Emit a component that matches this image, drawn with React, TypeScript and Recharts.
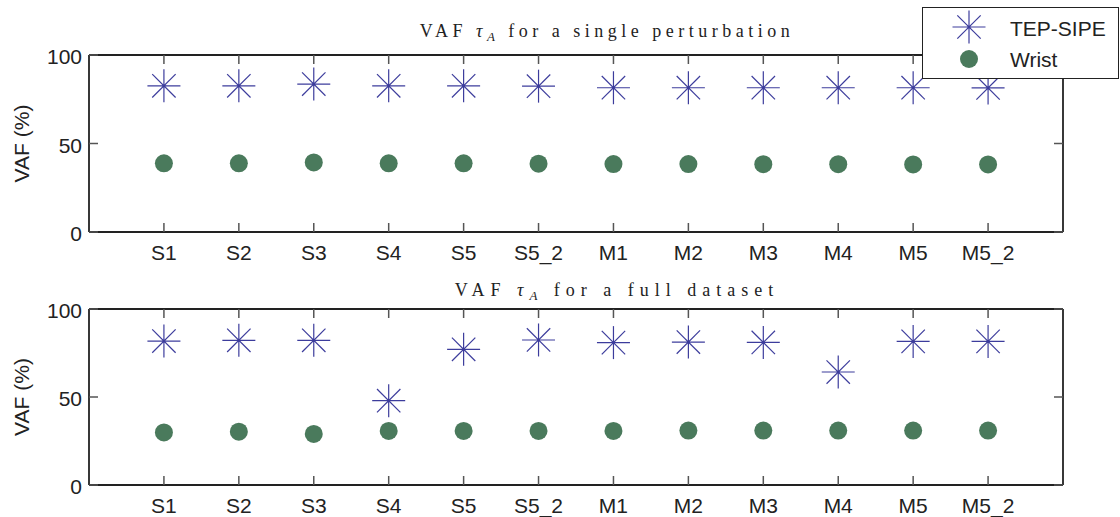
import React from 'react';
import { ScatterChart, Scatter, XAxis, YAxis, Legend, Label } from 'recharts';

const categories = ['S1', 'S2', 'S3', 'S4', 'S5', 'S5_2', 'M1', 'M2', 'M3', 'M4', 'M5', 'M5_2'];
const singleTep = [82.6, 82.6, 83.6, 82.6, 82.6, 82.4, 81.5, 81.5, 81.5, 81.5, 81.5, 81.4];
const singleWrist = [38.8, 38.8, 39.3, 38.8, 38.8, 38.6, 38.4, 38.4, 38.3, 38.3, 38.2, 38.2];
const fullTep = [81.8, 82.2, 82.2, 47.9, 77.1, 82.4, 80.9, 81.2, 81.0, 64.2, 81.6, 81.6];
const fullWrist = [29.9, 30.3, 29.0, 30.7, 30.7, 30.7, 30.7, 30.9, 30.9, 30.9, 30.9, 30.9];
const yTicks = [0, 50, 100];
const xTicks = categories.map((_, i) => i + 1);
const seriesNames = ['TEP-SIPE', 'Wrist'];

const toPoints = (vals: number[]) => vals.map((v, i) => ({ x: i + 1, y: v, name: categories[i] }));

const STAR = '#3c3c9c';
const DOT = '#4a7a5c';
const AXIS = '#222';
const SANS = '"Liberation Sans", Arial, Helvetica, sans-serif';
const SERIF = '"Liberation Serif", "DejaVu Serif", serif';

function StarShape(props: any) {
  const { cx, cy } = props;
  if (cx == null || cy == null) return null;
  const a = 16.5;
  const d = 11.7;
  return (
    <g stroke={STAR} strokeWidth={1.2}>
      <line x1={cx - a} y1={cy} x2={cx + a} y2={cy} />
      <line x1={cx} y1={cy - a} x2={cx} y2={cy + a} />
      <line x1={cx - d} y1={cy - d} x2={cx + d} y2={cy + d} />
      <line x1={cx - d} y1={cy + d} x2={cx + d} y2={cy - d} />
      <circle cx={cx} cy={cy} r={1.6} fill={STAR} stroke="none" />
    </g>
  );
}

function DotShape(props: any) {
  const { cx, cy } = props;
  if (cx == null || cy == null) return null;
  return <circle cx={cx} cy={cy} r={9} fill={DOT} />;
}

function NoShape() {
  return <g />;
}

function LegendBox() {
  return (
    <div
      style={{
        width: 197,
        height: 72,
        boxSizing: 'border-box',
        border: `1.5px solid ${AXIS}`,
        background: '#fff',
      }}
    >
      <svg width={194} height={69} style={{ display: 'block' }}>
        <StarShape cx={46} cy={19} />
        <DotShape cx={46} cy={51} />
        <text x={87} y={28} fontFamily={SANS} fontSize={21} fill={AXIS}>
          {seriesNames[0]}
        </text>
        <text x={87} y={59} fontFamily={SANS} fontSize={21} fill={AXIS}>
          {seriesNames[1]}
        </text>
      </svg>
    </div>
  );
}

type PanelProps = {
  tep: number[];
  wrist: number[];
  title: string;
  titleX: number;
  titleY: number;
  titleSpacing: number;
  height: number;
  top: number;
  marginTop: number;
  marginBottom: number;
  legend?: boolean;
};

function Panel(p: PanelProps) {
  const tickStyle = { fill: AXIS, fontSize: 21, fontFamily: SANS };
  const tickLine = { stroke: '#555', strokeWidth: 1.5 };
  const axisLine = { stroke: AXIS, strokeWidth: 1.8 };
  return (
    <div style={{ position: 'absolute', left: 0, top: p.top }}>
      <ScatterChart
        width={1120}
        height={p.height}
        margin={{ top: p.marginTop, right: 56, bottom: p.marginBottom, left: 29 }}
      >
        <XAxis
          xAxisId="b"
          dataKey="x"
          type="number"
          domain={[0, 13]}
          ticks={xTicks}
          allowDataOverflow
          height={26}
          tickSize={-9}
          tickMargin={22}
          tickLine={tickLine}
          axisLine={axisLine}
          tick={tickStyle}
          tickFormatter={(v: number) => categories[v - 1] ?? ''}
        />
        <XAxis
          xAxisId="t"
          dataKey="x"
          orientation="top"
          type="number"
          domain={[0, 13]}
          ticks={xTicks}
          allowDataOverflow
          height={1}
          tickSize={-9}
          tickLine={tickLine}
          axisLine={axisLine}
          tick={tickStyle}
          tickFormatter={() => ''}
        />
        <YAxis
          yAxisId="l"
          dataKey="y"
          type="number"
          domain={[0, 100]}
          ticks={yTicks}
          allowDataOverflow
          width={60}
          tickSize={-9}
          tickMargin={16}
          tickLine={tickLine}
          axisLine={axisLine}
          tick={{ ...tickStyle, dy: 2 }}
        >
          <Label
            content={(lp: any) => {
              const vb = lp.viewBox || { x: 29, y: 55, height: 177 };
              const cx = vb.x;
              const cy = vb.y + vb.height / 2;
              return (
                <text
                  x={cx}
                  y={cy}
                  transform={`rotate(-90, ${cx}, ${cy})`}
                  textAnchor="middle"
                  fontFamily={SANS}
                  fontSize={21}
                  fill={AXIS}
                >
                  VAF (%)
                </text>
              );
            }}
          />
        </YAxis>
        <YAxis
          yAxisId="r"
          dataKey="y"
          orientation="right"
          type="number"
          domain={[0, 100]}
          ticks={yTicks}
          allowDataOverflow
          width={1}
          tickSize={-9}
          tickLine={tickLine}
          axisLine={axisLine}
          tick={tickStyle}
          tickFormatter={() => ''}
        >
          <Label
            content={() => (
              <text
                x={p.titleX}
                y={p.titleY}
                textAnchor="middle"
                fontFamily={SERIF}
                fontSize={18}
                letterSpacing={p.titleSpacing}
                fill={AXIS}
              >
                {'VAF '}
                <tspan fontStyle="italic">τ</tspan>
                <tspan fontStyle="italic" fontSize={13} dy={4}>A</tspan>
                <tspan dy={-4}>{' for a ' + p.title}</tspan>
              </text>
            )}
          />
        </YAxis>
        <Scatter
          name={seriesNames[0]}
          xAxisId="b"
          yAxisId="l"
          data={toPoints(p.tep)}
          shape={StarShape}
          isAnimationActive={false}
        />
        <Scatter
          name={seriesNames[1]}
          xAxisId="b"
          yAxisId="l"
          data={toPoints(p.wrist)}
          shape={DotShape}
          isAnimationActive={false}
        />
        <Scatter
          name="frame"
          xAxisId="t"
          yAxisId="r"
          data={toPoints(p.tep)}
          shape={NoShape}
          legendType="none"
          isAnimationActive={false}
        />
        {p.legend ? (
          <Legend
            layout="vertical"
            align="center"
            verticalAlign="middle"
            wrapperStyle={{ position: 'absolute', left: 922, top: 7, width: 197, height: 72 }}
            content={() => <LegendBox />}
          />
        ) : null}
      </ScatterChart>
    </div>
  );
}

export default function App() {
  return (
    <div
      style={{
        position: 'absolute',
        left: 0,
        top: 0,
        width: 1120,
        height: 517,
        background: '#fff',
        overflow: 'hidden',
      }}
    >
      <Panel
        tep={singleTep}
        wrist={singleWrist}
        title="single perturbation"
        titleX={607}
        titleY={37}
        titleSpacing={4.5}
        height={275}
        top={0}
        marginTop={54}
        marginBottom={17}
        legend
      />
      <Panel
        tep={fullTep}
        wrist={fullWrist}
        title="full dataset"
        titleX={617}
        titleY={21}
        titleSpacing={6}
        height={242}
        top={275}
        marginTop={33}
        marginBottom={6}
      />
    </div>
  );
}
